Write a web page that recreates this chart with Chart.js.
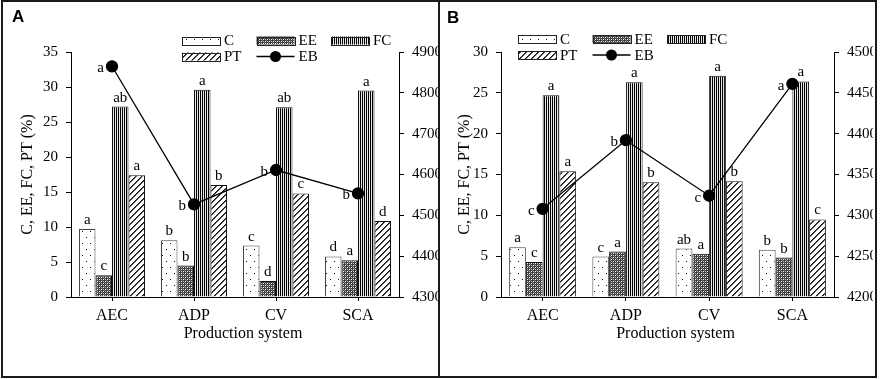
<!DOCTYPE html>
<html>
<head>
<meta charset="utf-8">
<script src="https://cdn.jsdelivr.net/npm/chart.js@4.4.1/dist/chart.umd.min.js"></script>
<style>
  html, body { margin: 0; padding: 0; background: #fff; }
  body { width: 883px; height: 379px; position: relative; overflow: hidden; }
  canvas { position: absolute; top: 0; }
  #cA { left: 0; }
  #cB { left: 440px; }
  .frame { position: absolute; left: 1px; top: 0; width: 872px; height: 374px; border: 2px solid #1a1a1a; pointer-events: none; }
  .divider { position: absolute; left: 438px; top: 0; width: 2px; height: 378px; background: #1a1a1a; }
  .plabel { position: absolute; font-family: "Liberation Sans", Arial, sans-serif; font-weight: bold; font-size: 17px; color: #000; }
</style>
</head>
<body>
<canvas id="cA" width="438" height="375"></canvas>
<canvas id="cB" width="433" height="375"></canvas>
<div class="frame"></div>
<div class="divider"></div>
<div class="plabel" style="left:12px; top:7px;">A</div>
<div class="plabel" style="left:447px; top:8px;">B</div>
<script>
// ---------- data ----------
const categories = ['AEC', 'ADP', 'CV', 'SCA'];
const seriesNames = ['C', 'EE', 'FC', 'PT', 'EB'];

// Panel A
const cA  = [9.7, 8.1, 7.35, 5.8];
const eeA = [3.1, 4.5, 2.3, 5.25];
const fcA = [27.2, 29.6, 27.1, 29.5];
const ptA = [17.4, 16.0, 14.8, 10.85];
const ebA = [4865, 4527, 4611, 4554];
const cLetA  = ['a', 'b', 'c', 'd'];
const eeLetA = ['c', 'b', 'd', 'a'];
const fcLetA = ['ab', 'a', 'ab', 'a'];
const ptLetA = ['a', 'b', 'c', 'd'];
const ebLetA = ['a', 'b', 'b', 'b'];
const leftTicksA = [0, 5, 10, 15, 20, 25, 30, 35];
const rightTicksA = [4300, 4400, 4500, 4600, 4700, 4800, 4900];

// Panel B
const cB  = [6.1, 4.95, 5.93, 5.8];
const eeB = [4.3, 5.57, 5.3, 4.83];
const fcB = [24.7, 26.3, 27.1, 26.4];
const ptB = [15.4, 14.04, 14.16, 9.5];
const ebB = [4308, 4392, 4324, 4461];
const cLetB  = ['a', 'c', 'ab', 'b'];
const eeLetB = ['c', 'a', 'a', 'b'];
const fcLetB = ['a', 'a', 'a', 'a'];
const ptLetB = ['a', 'b', 'b', 'c'];
const ebLetB = ['c', 'b', 'c', 'a'];
const leftTicksB = [0, 5, 10, 15, 20, 25, 30];
const rightTicksB = [4200, 4250, 4300, 4350, 4400, 4450, 4500];

const yTitle = 'C, EE, FC, PT (%)';
const xTitle = 'Production system';

// ---------- patterns ----------
function makePattern(kind) {
  const c = document.createElement('canvas');
  const x = c.getContext('2d');
  if (kind === 'dots') {
    c.width = 8; c.height = 12;
    x.fillStyle = '#fff'; x.fillRect(0, 0, 8, 12);
    x.fillStyle = '#111';
    x.fillRect(2, 3, 1, 1);
    x.fillRect(6, 9, 1, 1);
  } else if (kind === 'cross') {
    c.width = 4; c.height = 4;
    x.fillStyle = '#3a3a3a'; x.fillRect(0, 0, 4, 4);
    x.fillStyle = '#fff';
    x.fillRect(1, 1, 1, 1); x.fillRect(3, 3, 1, 1);
    x.fillStyle = '#c8c8c8';
    x.fillRect(1, 3, 1, 1); x.fillRect(3, 1, 1, 1);
    x.fillStyle = '#777';
    x.fillRect(0, 2, 1, 1); x.fillRect(2, 0, 1, 1);
  } else if (kind === 'vert') {
    c.width = 2; c.height = 2;
    x.fillStyle = '#e8e8e8'; x.fillRect(0, 0, 2, 2);
    x.fillStyle = '#000'; x.fillRect(0, 0, 1, 2);
  } else if (kind === 'diag') {
    c.width = 6; c.height = 6;
    x.fillStyle = '#fff'; x.fillRect(0, 0, 6, 6);
    for (let i = 0; i < 6; i++) {
      x.fillStyle = '#111';
      x.fillRect(i, 5 - i, 1, 1);
      x.fillStyle = '#555';
      x.fillRect((i + 1) % 6, 5 - i, 1, 1);
    }
  }
  return c.getContext('2d').createPattern(c, 'repeat');
}

const FONT = '"Liberation Serif", "Times New Roman", serif';

// ---------- plugin: letters, legend, x title ----------
const annotPlugin = {
  id: 'annot',
  afterDatasetsDraw(chart) {
    const ctx = chart.ctx;
    ctx.save();
    ctx.fillStyle = '#000';
    ctx.font = '15px ' + FONT;
    chart.data.datasets.forEach((ds, di) => {
      const meta = chart.getDatasetMeta(di);
      const letters = ds.letters || [];
      meta.data.forEach((el, i) => {
        if (!letters[i]) return;
        if (ds.type === 'line') {
          ctx.textAlign = 'right';
          ctx.textBaseline = 'middle';
          ctx.fillText(letters[i], el.x - 8, el.y + 2);
        } else {
          ctx.textAlign = 'center';
          ctx.textBaseline = 'alphabetic';
          ctx.fillText(letters[i], el.x, el.y - 5);
        }
      });
    });
    ctx.restore();
  },
  afterDraw(chart) {
    const ctx = chart.ctx;
    const o = chart.options.plugins.annot;
    const ca = chart.chartArea;
    ctx.save();
    // x title
    ctx.fillStyle = '#000';
    ctx.font = '16px ' + FONT;
    ctx.textAlign = 'center';
    ctx.textBaseline = 'middle';
    ctx.fillText(xTitle, (ca.left + ca.right) / 2 + 8, ca.bottom + 37);
    // legend
    const lx = ca.left + o.legendX;
    const rows = [o.legendY, o.legendY + 16];
    const colStep = 74.5;
    const sw = 38, sh = 8;
    const ds = chart.data.datasets;
    const items = [
      {ds: ds[1], col: 0, row: 0},
      {ds: ds[2], col: 1, row: 0},
      {ds: ds[3], col: 2, row: 0},
      {ds: ds[4], col: 0, row: 1},
      {ds: ds[0], col: 1, row: 1}
    ];
    ctx.font = '15px ' + FONT;
    ctx.textAlign = 'left';
    items.forEach(it => {
      const x0 = lx + it.col * colStep;
      const yc = rows[it.row];
      if (it.ds.type === 'line') {
        ctx.strokeStyle = '#000';
        ctx.lineWidth = 1.3;
        ctx.beginPath();
        ctx.moveTo(x0, yc); ctx.lineTo(x0 + sw, yc);
        ctx.stroke();
        ctx.fillStyle = '#000';
        ctx.beginPath();
        ctx.arc(x0 + sw / 2, yc, 5.5, 0, Math.PI * 2);
        ctx.fill();
      } else {
        ctx.fillStyle = it.ds.backgroundColor;
        ctx.fillRect(x0, yc - sh / 2, sw, sh);
        ctx.strokeStyle = '#222';
        ctx.lineWidth = 1;
        ctx.strokeRect(Math.round(x0) + 0.5, Math.round(yc - sh / 2) + 0.5, sw, sh);
      }
      ctx.fillStyle = '#000';
      ctx.textBaseline = 'middle';
      ctx.fillText(it.ds.label, x0 + sw + 4, yc + 1);
    });
    ctx.restore();
  }
};

function makePanel(id, d, opts) {
  const barCommon = {
    type: 'bar',
    yAxisID: 'y',
    borderColor: '#111',
    borderWidth: 1,
    categoryPercentage: 0.805,
    barPercentage: 1.0,
    order: 1
  };
  return new Chart(document.getElementById(id), {
    type: 'bar',
    data: {
      labels: categories,
      datasets: [
        {
          type: 'line', label: seriesNames[4], data: d.eb, letters: d.ebL, yAxisID: 'y2',
          borderColor: '#000', borderWidth: 1.3, backgroundColor: '#000',
          pointRadius: 5.5, pointBackgroundColor: '#000', pointBorderColor: '#000',
          tension: 0, fill: false, order: 0
        },
        Object.assign({label: seriesNames[0], data: d.c, letters: d.cL, backgroundColor: makePattern('dots')}, barCommon, {borderColor: '#444'}),
        Object.assign({label: seriesNames[1], data: d.ee, letters: d.eeL, backgroundColor: makePattern('cross')}, barCommon),
        Object.assign({label: seriesNames[2], data: d.fc, letters: d.fcL, backgroundColor: makePattern('vert')}, barCommon),
        Object.assign({label: seriesNames[3], data: d.pt, letters: d.ptL, backgroundColor: makePattern('diag')}, barCommon)
      ]
    },
    options: {
      responsive: false,
      animation: false,
      devicePixelRatio: 1,
      layout: { padding: { top: 52, bottom: 32, left: 0, right: 0 } },
      plugins: {
        legend: { display: false },
        tooltip: { enabled: false },
        annot: { legendX: opts.legendX, legendY: opts.legendY }
      },
      scales: {
        x: {
          offset: true,
          grid: { offset: false, drawOnChartArea: false, drawTicks: true, tickLength: 4, color: '#000' },
          border: { display: true, color: '#000', width: 1 },
          ticks: { color: '#000', font: { family: FONT, size: 16 }, padding: 5, maxRotation: 0 },
          afterFit: s => { s.height = 46; }
        },
        y: {
          position: 'left',
          min: d.lt[0], max: d.lt[d.lt.length - 1],
          afterBuildTicks: s => { s.ticks = d.lt.map(v => ({ value: v })); },
          grid: { drawOnChartArea: false, drawTicks: true, tickLength: 5, color: '#000' },
          border: { display: true, color: '#000', width: 1 },
          ticks: { color: '#000', font: { family: FONT, size: 15 }, padding: 8, callback: v => String(v) },
          title: { display: true, text: yTitle, color: '#000', font: { family: FONT, size: 16 }, padding: { top: opts.yTitlePad, bottom: 0 } },
          afterFit: s => { s.width = opts.leftW; }
        },
        y2: {
          position: 'right',
          min: d.rt[0], max: d.rt[d.rt.length - 1],
          afterBuildTicks: s => { s.ticks = d.rt.map(v => ({ value: v })); },
          grid: { drawOnChartArea: false, drawTicks: true, tickLength: 5, color: '#000' },
          border: { display: true, color: '#000', width: 1 },
          ticks: { color: '#000', font: { family: FONT, size: 15 }, padding: 8, callback: v => String(v) },
          afterFit: s => { s.width = opts.rightW; }
        }
      }
    },
    plugins: [annotPlugin]
  });
}

makePanel('cA', {
  c: cA, ee: eeA, fc: fcA, pt: ptA, eb: ebA,
  cL: cLetA, eeL: eeLetA, fcL: fcLetA, ptL: ptLetA, ebL: ebLetA,
  lt: leftTicksA, rt: rightTicksA
}, { leftW: 71, rightW: 39, legendX: 111, legendY: 40.5, yTitlePad: 18 });

makePanel('cB', {
  c: cB, ee: eeB, fc: fcB, pt: ptB, eb: ebB,
  cL: cLetB, eeL: eeLetB, fcL: fcLetB, ptL: ptLetB, ebL: ebLetB,
  lt: leftTicksB, rt: rightTicksB
}, { leftW: 61, rightW: 39, legendX: 17, legendY: 39, yTitlePad: 15 });
</script>
</body>
</html>
